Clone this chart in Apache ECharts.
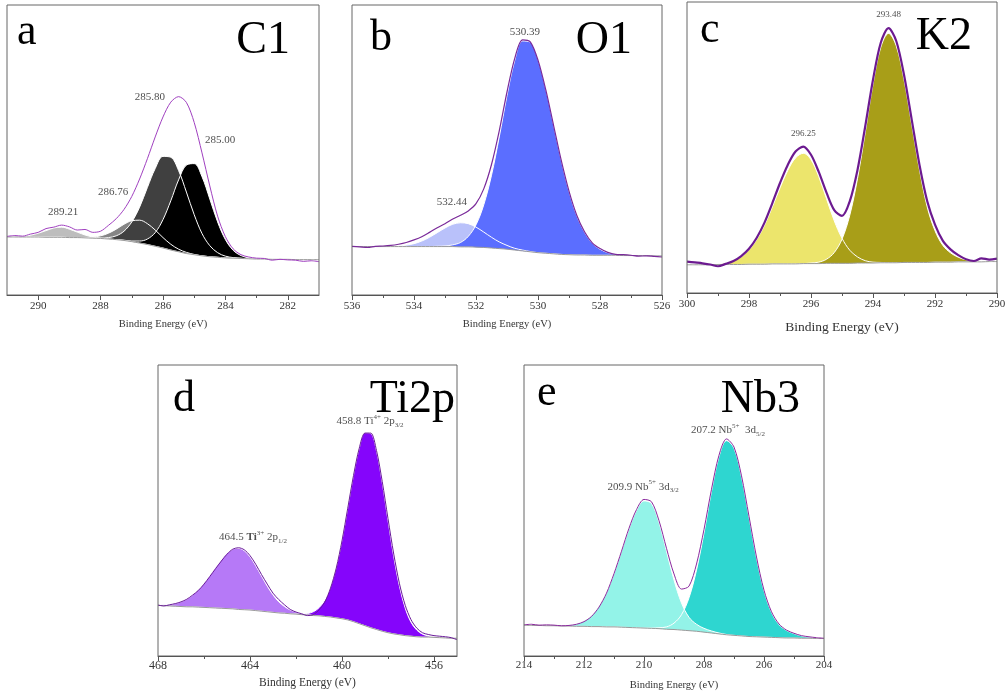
<!DOCTYPE html>
<html>
<head>
<meta charset="utf-8">
<title>XPS spectra: C1, O1, K2, Ti2p, Nb3</title>
<script src="https://cdn.jsdelivr.net/npm/echarts@6/dist/echarts.min.js"></script>
<style>
  html, body { margin: 0; padding: 0; background: #fff; }
  #chart { width: 1007px; height: 693px; }
</style>
</head>
<body>
<div id="chart"></div>
<script>
// ---- data (y = % of the plot box height; peaks are heights above the background) ----
// a: C1
var xA = [281,281.25,281.5,281.75,282,282.25,282.5,282.75,283,283.25,283.5,283.75,284,284.25,284.5,284.75,285,285.25,285.5,285.75,286,286.25,286.5,286.75,287,287.25,287.5,287.75,288,288.25,288.5,288.75,289,289.25,289.5,289.75,290,290.25,290.5,290.75,291];
var bgA = [12.2,12.2,12.2,12.2,12.3,12.3,12.3,12.4,12.4,12.5,12.6,12.7,12.8,13.0,13.2,13.5,13.9,14.3,14.9,15.5,16.2,16.8,17.4,17.9,18.4,18.8,19.1,19.3,19.5,19.6,19.7,19.8,19.8,19.9,19.9,19.9,20.0,20.0,20.0,20.0,20.0];
var peak289A = [0,0,0,0,0,0,0,0,0,0,0,0,0,0,0,0,0,0,0,0,0,0,0,0,0,0,0,0,0.1,0.4,1.0,1.9,2.9,3.5,3.2,2.3,1.3,0.6,0.2,0.1,0];
var peak286_8A = [0,0,0,0,0,0,0,0,0,0,0,0,0,0,0,0,0.1,0.4,0.9,2.0,3.6,5.6,7.2,7.9,7.2,5.6,3.6,2.0,0.9,0.4,0.1,0,0,0,0,0,0,0,0,0,0];
var peak285_8A = [0,0,0,0,0,0,0,0,0,0,0.1,0.2,0.6,1.6,3.8,7.7,13.8,21.2,28.0,32.0,31.6,26.8,19.7,12.4,6.8,3.2,1.3,0.5,0.1,0,0,0,0,0,0,0,0,0,0,0,0];
var peak285A = [0,0,0,0,0,0,0,0,0.1,0.3,1.0,2.7,6.3,12.2,19.9,27.3,31.4,30.5,24.8,17.0,9.8,4.7,1.9,0.7,0.2,0.1,0,0,0,0,0,0,0,0,0,0,0,0,0,0,0];
var envA = [11.5,11.8,11.6,12.0,12.1,12.3,12.0,12.6,12.7,13.1,13.9,15.9,20.1,27.2,37.6,49.0,59.5,66.4,68.4,66.5,61.4,54.5,47.0,40.0,34.0,29.5,26.3,24.0,22.0,21.6,22.6,22.4,23.5,24.1,23.4,22.9,21.6,21.0,20.3,20.5,20.2];
var ticksA = [282,284,286,288,290];
var minorA = [283,285,287,289];
var labelsA = [[286.42,68.3,'285.80'],[284.17,53.4,'285.00'],[287.6,35.5,'286.76'],[289.2,28.6,'289.21']];

// b: O1
var xB = [526,526.25,526.5,526.75,527,527.25,527.5,527.75,528,528.25,528.5,528.75,529,529.25,529.5,529.75,530,530.25,530.5,530.75,531,531.25,531.5,531.75,532,532.25,532.5,532.75,533,533.25,533.5,533.75,534,534.25,534.5,534.75,535,535.25,535.5,535.75,536];
var bgB = [13.5,13.5,13.6,13.6,13.6,13.6,13.7,13.7,13.7,13.7,13.8,13.8,13.9,14.0,14.2,14.4,14.6,14.9,15.2,15.5,15.8,16.0,16.2,16.4,16.5,16.6,16.6,16.7,16.7,16.7,16.7,16.7,16.7,16.7,16.7,16.7,16.7,16.7,16.7,16.7,16.7];
var peak532B = [0,0,0,0,0,0,0,0,0,0,0,0,0,0,0,0,0,0.1,0.3,0.6,1.3,2.3,3.7,5.3,6.9,8.0,8.3,7.7,6.4,4.8,3.2,1.9,1.0,0.5,0.2,0.1,0,0,0,0,0];
var peak530B = [0,0,0,0,0.1,0.2,0.4,0.9,2.1,4.2,7.9,13.6,21.9,32.5,44.6,56.7,66.6,72.3,72.4,65.4,53.0,38.5,25.1,14.7,7.7,3.6,1.5,0.6,0.2,0.1,0,0,0,0,0,0,0,0,0,0,0];
var envB = [13.1,13.3,13.5,13.4,13.7,13.9,14.0,14.7,16.0,18.0,21.8,27.5,35.8,46.4,58.6,70.8,81.0,87.3,88.0,81.6,70.0,56.6,45.0,36.6,31.5,29.0,27.5,26.2,24.6,23.2,21.6,20.1,19.0,18.1,17.5,17.1,16.9,16.8,16.4,16.6,16.8];
var ticksB = [526,528,530,532,534,536];
var minorB = [527,529,531,533,535];
var labelsB = [[530.42,90.8,'530.39'],[532.78,32.2,'532.44']];

// c: K2
var xC = [290,290.25,290.5,290.75,291,291.25,291.5,291.75,292,292.25,292.5,292.75,293,293.25,293.5,293.75,294,294.25,294.5,294.75,295,295.25,295.5,295.75,296,296.25,296.5,296.75,297,297.25,297.5,297.75,298,298.25,298.5,298.75,299,299.25,299.5,299.75,300];
var bgC = [10.8,10.8,10.7,10.7,10.7,10.7,10.6,10.6,10.6,10.5,10.5,10.5,10.5,10.4,10.4,10.4,10.3,10.3,10.3,10.2,10.2,10.2,10.2,10.1,10.1,10.1,10.0,10.0,10.0,10.0,9.9,9.9,9.9,9.8,9.8,9.8,9.8,9.7,9.7,9.7,9.7];
var peak296C = [0,0,0,0,0,0,0,0,0,0,0,0,0,0,0,0.1,0.3,0.8,2.1,4.5,8.6,14.6,22.2,29.9,35.7,37.9,36.4,32.1,26.1,19.5,13.4,8.5,4.9,2.6,1.3,0.6,0.2,0.1,0,0,0];
var peak293C = [0,0,0.1,0.3,0.7,1.6,3.2,5.8,10.8,19.0,31.8,47.3,62.8,74.5,78.8,74.0,61.4,44.9,29.0,16.5,8.3,3.7,1.4,0.5,0.2,0,0,0,0,0,0,0,0,0,0,0,0,0,0,0,0];
var envC = [11.8,11.5,11.9,11.0,11.6,13.0,15.0,18.0,23.5,31.5,44.0,59.5,75.0,86.6,91.0,86.0,73.3,57.3,42.3,31.5,26.5,28.5,34.5,41.6,47.5,50.3,48.6,44.0,37.8,30.8,24.2,19.0,15.2,12.7,11.0,10.0,9.2,9.8,10.2,10.5,10.8];
var ticksC = [290,292,294,296,298,300];
var minorC = [291,293,295,297,299];
var labelsC = [[293.5,95.5,'293.48'],[296.25,54.9,'296.25']];

// d: Ti2p
var xD = [455,455.25,455.5,455.75,456,456.25,456.5,456.75,457,457.25,457.5,457.75,458,458.25,458.5,458.75,459,459.25,459.5,459.75,460,460.25,460.5,460.75,461,461.25,461.5,461.75,462,462.25,462.5,462.75,463,463.25,463.5,463.75,464,464.25,464.5,464.75,465,465.25,465.5,465.75,466,466.25,466.5,466.75,467,467.25,467.5,467.75,468];
var bgD = [6.1,6.1,6.2,6.3,6.4,6.5,6.5,6.6,6.8,7.0,7.3,7.6,8.0,8.5,9.1,9.7,10.4,11.1,11.8,12.4,12.8,13.1,13.4,13.6,13.8,13.9,14.1,14.2,14.4,14.5,14.7,14.8,15.0,15.2,15.4,15.6,15.8,15.9,16.0,16.2,16.3,16.4,16.5,16.6,16.7,16.8,16.9,16.9,17.0,17.1,17.2,17.3,17.4];
var peak464D = [0,0,0,0,0,0,0,0,0,0,0,0,0,0,0,0,0,0,0,0,0,0,0,0,0,0.1,0.1,0.3,0.7,1.3,2.3,3.8,6.0,8.8,12.1,15.4,18.3,20.3,21.0,20.5,18.9,16.6,13.8,11.0,8.2,5.9,4.0,2.6,1.6,0.9,0.5,0.3,0.1];
var peak459D = [0,0,0,0,0.1,0.4,1.0,2.3,4.8,9.4,16.6,26.5,38.6,51.0,61.3,66.8,66.3,60.3,50.3,38.5,27.0,17.4,10.3,5.6,2.8,1.3,0.5,0.2,0.1,0,0,0,0,0,0,0,0,0,0,0,0,0,0,0,0,0,0,0,0,0,0,0,0];
var envD = [5.6,6.3,6.6,6.8,7.0,7.4,8.0,9.6,12.5,17.4,24.8,35.0,47.2,59.9,70.6,76.6,76.6,71.4,62.0,50.8,39.6,30.2,23.3,18.5,15.8,14.2,13.9,14.5,15.1,16.0,17.6,19.4,21.6,24.7,28.0,31.5,34.5,36.5,37.2,36.7,35.0,32.6,30.0,27.3,24.7,22.5,20.9,19.5,18.6,18.0,17.6,17.2,17.5];
var ticksD = [456,460,464,468];
var minorD = [458,462,466];
var labelsD = [[458.78,80.8,'{n|458.8 Ti}{sup|4+}{n| 2p}{sub|3/2}'],[463.87,41.0,'{n|464.5 }{b|Ti}{sup|3+}{n| 2p}{sub|1/2}']];

// e: Nb3
var xE = [204,204.25,204.5,204.75,205,205.25,205.5,205.75,206,206.25,206.5,206.75,207,207.25,207.5,207.75,208,208.25,208.5,208.75,209,209.25,209.5,209.75,210,210.25,210.5,210.75,211,211.25,211.5,211.75,212,212.25,212.5,212.75,213,213.25,213.5,213.75,214];
var bgE = [6.0,6.0,6.1,6.1,6.2,6.2,6.3,6.4,6.5,6.6,6.7,6.9,7.1,7.3,7.6,7.9,8.2,8.5,8.7,8.9,9.1,9.2,9.4,9.5,9.6,9.7,9.8,9.9,10.0,10.0,10.1,10.1,10.2,10.2,10.3,10.3,10.4,10.4,10.5,10.5,10.6];
var peak207E = [0.1,0.2,0.4,0.8,1.5,2.6,4.5,8.6,15.9,27.1,41.0,54.6,64.3,66.7,60.9,48.7,34.1,21.0,11.3,5.3,2.2,0.8,0.3,0.1,0,0,0,0,0,0,0,0,0,0,0,0,0,0,0,0,0];
var peak210E = [0,0,0,0,0,0,0,0,0,0,0,0,0,0.1,0.3,0.7,1.3,2.4,4.6,9.3,17.0,26.8,36.5,42.9,43.7,40.3,33.9,26.1,18.3,11.7,6.9,3.7,1.8,0.8,0.3,0.1,0,0,0,0,0];
var envE = [6.1,6.3,6.6,7.0,7.8,8.9,11.0,15.2,22.6,34.0,48.0,61.9,71.8,74.6,69.0,57.3,43.5,31.6,24.0,23.0,28.2,37.0,46.5,53.0,53.8,50.3,43.9,36.0,28.3,21.6,16.8,13.6,11.8,10.9,10.5,10.4,10.6,10.7,10.6,10.9,10.7];
var ticksE = [204,206,208,210,212,214];
var minorE = [205,207,209,211,213];
var labelsE = [[207.2,77.7,'{n|207.2 Nb}{sup|5+}{n|  3d}{sub|5/2}'],[210.03,58.2,'{n|209.9 Nb}{sup|5+}{n| 3d}{sub|3/2}']];

// ---- layout / style per panel ----
var SERIF = '"Liberation Serif", "Times New Roman", serif';
var panels = [
  { box: {left: 7, top: 5, width: 312, height: 290}, min: 281, max: 291, x: xA, bg: bgA, env: envA,
    comps: [[peak289A, '#bdbdbd'], [peak286_8A, '#858585'], [peak285_8A, '#404040'], [peak285A, '#000000']],
    major: ticksA, minor: minorA, labels: labelsA, envColor: '#a040c0', envWidth: 1,
    tickFont: 11, nameFont: 10.5, nameGap: 24, labelMargin: 6, peakFont: 11,
    letter: ['a', 17, 32], title: ['C1', 290, 41] },
  { box: {left: 352, top: 5, width: 310, height: 290}, min: 526, max: 536, x: xB, bg: bgB, env: envB,
    comps: [[peak532B, '#b9c1fa'], [peak530B, '#5b6eff']],
    major: ticksB, minor: minorB, labels: labelsB, envColor: '#7a2a9a', envWidth: 1.2,
    tickFont: 11, nameFont: 10.5, nameGap: 24, labelMargin: 6, peakFont: 11,
    letter: ['b', 370, 38], title: ['O1', 632, 41] },
  { box: {left: 687, top: 2, width: 310, height: 291}, min: 290, max: 300, x: xC, bg: bgC, env: envC,
    comps: [[peak296C, '#ece56c'], [peak293C, '#a89e18']],
    major: ticksC, minor: minorC, labels: labelsC, envColor: '#6c1a90', envWidth: 2.2,
    tickFont: 11, nameFont: 13.5, nameGap: 27, labelMargin: 6, peakFont: 9,
    letter: ['c', 700, 30], title: ['K2', 972, 37] },
  { box: {left: 158, top: 365, width: 299, height: 291}, min: 455, max: 468, x: xD, bg: bgD, env: envD,
    comps: [[peak464D, '#b679f7'], [peak459D, '#8505fb']],
    major: ticksD, minor: minorD, labels: labelsD, envColor: '#6a1b9a', envWidth: 1,
    tickFont: 12, nameFont: 11.5, nameGap: 21, labelMargin: 4, peakFont: 11,
    letter: ['d', 173, 399], title: ['Ti2p', 455, 400] },
  { box: {left: 524, top: 365, width: 300, height: 291}, min: 204, max: 214, x: xE, bg: bgE, env: envE,
    comps: [[peak207E, '#2ed6d0'], [peak210E, '#93f3e8']],
    major: ticksE, minor: minorE, labels: labelsE, envColor: '#8b2a9e', envWidth: 1,
    tickFont: 11, nameFont: 10.5, nameGap: 24, labelMargin: 4, peakFont: 11,
    letter: ['e', 537, 393], title: ['Nb3', 800, 400] }
];

function pairs(xs, ys) {
  return xs.map(function (x, k) { return [x, ys[k]]; });
}
// fitted component drawn on top of the background
function onBackground(xs, bg, peak) {
  return xs.map(function (x, k) { return [x, +(bg[k] + peak[k]).toFixed(2)]; });
}

var grids = [], xAxes = [], yAxes = [], series = [], graphics = [];

panels.forEach(function (p, i) {
  // z above the series so the box frame is never hidden by the fills
  grids.push(Object.assign({show: true, z: 10, borderColor: '#666', borderWidth: 1,
    backgroundColor: 'transparent', containLabel: false, outerBoundsMode: 'none'}, p.box));

  // main axis: labels + major ticks
  xAxes.push({
    gridIndex: i, type: 'value', inverse: true, min: p.min, max: p.max, position: 'bottom', z: 10,
    axisLine: {show: true, onZero: false, lineStyle: {color: '#555', width: 1}},
    axisTick: {show: true, customValues: p.major, length: 5, lineStyle: {color: '#555'}},
    axisLabel: {customValues: p.major, margin: p.labelMargin, fontSize: p.tickFont,
      fontFamily: SERIF, color: '#333'},
    splitLine: {show: false},
    name: 'Binding Energy (eV)', nameLocation: 'middle', nameGap: p.nameGap,
    nameTextStyle: {fontSize: p.nameFont, fontFamily: SERIF, color: '#333'}
  });
  // second axis on the same grid, only for the minor ticks
  xAxes.push({
    gridIndex: i, type: 'value', inverse: true, min: p.min, max: p.max, position: 'bottom', z: 10,
    axisLine: {show: false, onZero: false},
    axisTick: {show: true, customValues: p.minor, length: 3, lineStyle: {color: '#555'}},
    axisLabel: {show: false}, splitLine: {show: false}
  });
  yAxes.push({gridIndex: i, type: 'value', min: 0, max: 100, show: false});

  var xi = i * 2;
  // components, filled down to the axis, later ones over earlier ones
  p.comps.forEach(function (c) {
    series.push({
      type: 'line', xAxisIndex: xi, yAxisIndex: i, data: onBackground(p.x, p.bg, c[0]),
      symbol: 'none', smooth: 0.35, silent: true,
      lineStyle: {color: '#ffffff', width: 1},
      areaStyle: {color: c[1], opacity: 1, origin: 'start'}
    });
  });
  // white mask below the background line
  series.push({
    type: 'line', xAxisIndex: xi, yAxisIndex: i, data: pairs(p.x, p.bg),
    symbol: 'none', smooth: 0.35, silent: true,
    lineStyle: {color: '#9a9a9a', width: 1},
    areaStyle: {color: '#ffffff', opacity: 1, origin: 'start'}
  });
  // measured envelope
  series.push({
    type: 'line', xAxisIndex: xi, yAxisIndex: i, data: pairs(p.x, p.env),
    symbol: 'none', smooth: 0.3, silent: true, lineStyle: {color: p.envColor, width: p.envWidth}
  });
  // peak annotations
  series.push({
    type: 'scatter', xAxisIndex: xi, yAxisIndex: i, data: p.labels, symbolSize: 1,
    itemStyle: {color: 'rgba(0,0,0,0)'}, silent: true,
    label: {
      show: true, position: 'inside',
      formatter: function (prm) { return prm.data[2]; },
      fontFamily: SERIF, fontSize: p.peakFont, color: '#222',
      rich: {
        n: {fontFamily: SERIF, fontSize: p.peakFont, color: '#222', lineHeight: 15},
        b: {fontFamily: SERIF, fontSize: p.peakFont, fontWeight: 'bold', color: '#222', lineHeight: 15},
        sup: {fontFamily: SERIF, fontSize: 7, color: '#222', lineHeight: 8, verticalAlign: 'top'},
        sub: {fontFamily: SERIF, fontSize: 7, color: '#222', lineHeight: 8, verticalAlign: 'bottom'}
      }
    }
  });

  graphics.push({
    type: 'text', x: p.letter[1], y: p.letter[2], silent: true,
    style: {text: p.letter[0], font: '44px ' + SERIF, fill: '#000', align: 'left', verticalAlign: 'middle'}
  });
  graphics.push({
    type: 'text', x: p.title[1], y: p.title[2], silent: true,
    style: {text: p.title[0], font: '46px ' + SERIF, fill: '#000', align: 'right', verticalAlign: 'middle'}
  });
});

var chart = echarts.init(document.getElementById('chart'));
chart.setOption({
  animation: false,
  backgroundColor: '#fff',
  grid: grids,
  xAxis: xAxes,
  yAxis: yAxes,
  series: series,
  graphic: graphics
});
</script>
</body>
</html>
